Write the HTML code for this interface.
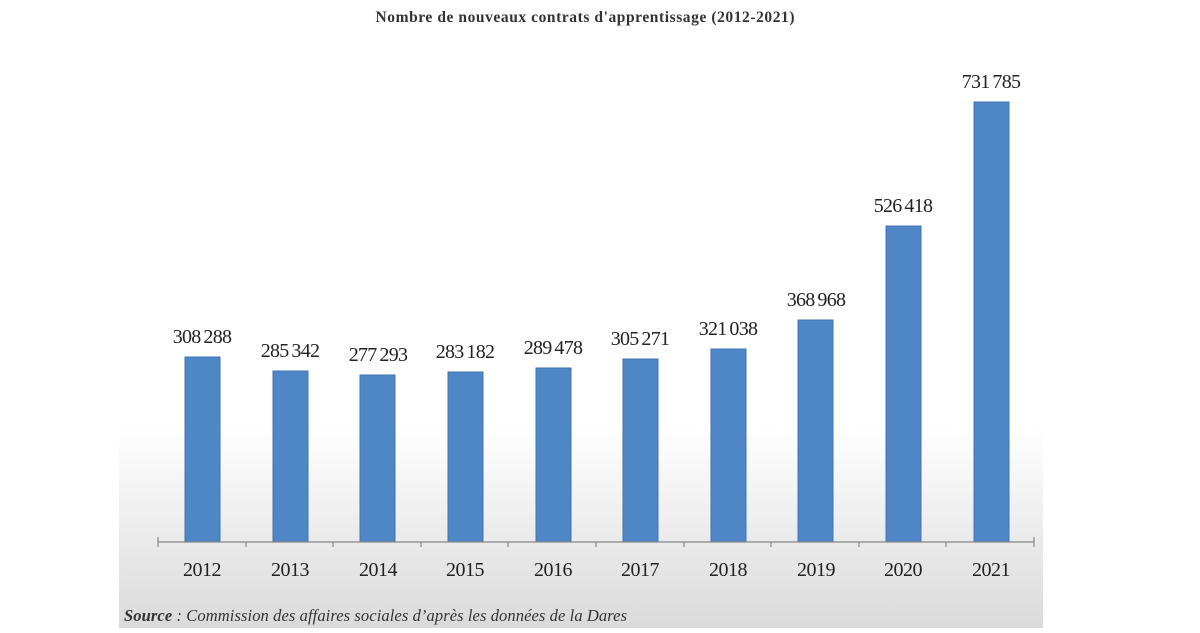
<!DOCTYPE html>
<html><head><style>
body{margin:0;width:1200px;height:628px;background:#fff;overflow:hidden;font-family:"Liberation Serif",serif}
</style></head><body>
<svg width="1200" height="628" xmlns="http://www.w3.org/2000/svg">
<defs><linearGradient id="g" x1="0" y1="0" x2="0" y2="1">
<stop offset="0" stop-color="#fff"/><stop offset="0.68" stop-color="#fff"/><stop offset="1" stop-color="#dadada"/></linearGradient></defs>
<rect x="119" y="0" width="924" height="628" fill="url(#g)"/>
<text x="585" y="22" text-anchor="middle" font-size="15.5" font-weight="bold" fill="#333" textLength="419">Nombre de nouveaux contrats d'apprentissage (2012-2021)</text>
<g fill="#4f86c6" stroke="#3f74b4" stroke-width="1">
<rect x="185" y="357" width="35" height="185"/>
<rect x="273" y="371" width="35" height="171"/>
<rect x="360" y="375" width="35" height="167"/>
<rect x="448" y="372" width="35" height="170"/>
<rect x="536" y="368" width="35" height="174"/>
<rect x="623" y="359" width="35" height="183"/>
<rect x="711" y="349" width="35" height="193"/>
<rect x="798" y="320" width="35" height="222"/>
<rect x="886" y="226" width="35" height="316"/>
<rect x="974" y="102" width="35" height="440"/>
</g>
<g stroke="#888" stroke-width="1.2" fill="none">
<line x1="158" y1="542" x2="1034" y2="542"/>
<path d="M158 537V547M246 542V547M333 542V547M421 542V547M508 542V547M596 542V547M684 542V547M771 542V547M859 542V547M946 542V547M1034 537V547"/>
</g>
<g font-size="20" text-anchor="middle" fill="#222" letter-spacing="-0.7" word-spacing="-1.5">
<text x="202" y="343">308 288</text>
<text x="290" y="357">285 342</text>
<text x="378" y="361">277 293</text>
<text x="465" y="358">283 182</text>
<text x="553" y="354">289 478</text>
<text x="640" y="345">305 271</text>
<text x="728" y="335">321 038</text>
<text x="816" y="306">368 968</text>
<text x="903" y="212">526 418</text>
<text x="991" y="88">731 785</text>
</g>
<g font-size="20" text-anchor="middle" fill="#222" letter-spacing="-0.5">
<text x="202" y="576">2012</text><text x="290" y="576">2013</text><text x="378" y="576">2014</text>
<text x="465" y="576">2015</text><text x="553" y="576">2016</text><text x="640" y="576">2017</text>
<text x="728" y="576">2018</text><text x="816" y="576">2019</text><text x="903" y="576">2020</text>
<text x="991" y="576">2021</text>
</g>
<text x="124" y="621" font-size="16.5" font-style="italic" fill="#333" textLength="503"><tspan font-weight="bold">Source</tspan> : Commission des affaires sociales d’après les données de la Dares</text>
</svg>
</body></html>
